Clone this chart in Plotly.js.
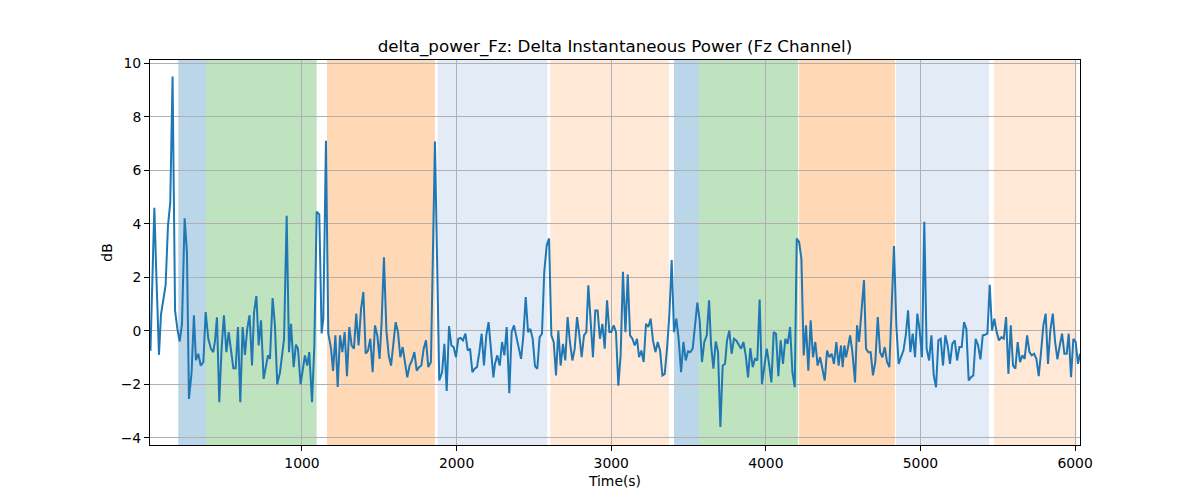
<!DOCTYPE html>
<html>
<head>
<meta charset="utf-8">
<script src="https://cdn.plot.ly/plotly-3.0.1.min.js"></script>
<style>
  body { margin: 0; background: #fff; }
  #chart { width: 1200px; height: 500px; }
</style>
</head>
<body>
<div id="chart"></div>
<script>
// time stamps (s) and delta power (dB)
var timeS = [
  20,45,58,75,88,103,118,133,148,163,
  179,194,209,224,241,256,269,286,301,314,
  329,345,362,377,394,411,426,437,450,465,
  480,495,511,526,541,556,571,586,601,616,
  631,646,661,677,690,705,720,735,752,767,
  780,793,810,825,840,858,873,884,901,916,
  929,946,961,974,991,1004,1019,1034,1047,1065,
  1080,1095,1112,1127,1138,1155,1170,1188,1201,1216,
  1231,1246,1261,1276,1291,1306,1321,1336,1351,1366,
  1382,1397,1412,1427,1442,1457,1472,1487,1502,1515,
  1530,1546,1561,1576,1591,1606,1621,1636,1651,1666,
  1681,1696,1711,1727,1742,1757,1772,1787,1802,1817,
  1834,1860,1888,1906,1921,1936,1951,1966,1981,1996,
  2011,2026,2041,2057,2072,2087,2102,2117,2132,2147,
  2162,2177,2192,2207,2222,2238,2248,2263,2279,2294,
  2309,2324,2341,2356,2371,2386,2401,2417,2432,2447,
  2462,2477,2492,2507,2522,2537,2552,2567,2583,2598,
  2613,2628,2643,2658,2673,2688,2703,2718,2733,2749,
  2764,2779,2794,2809,2824,2839,2852,2867,2882,2897,
  2912,2927,2943,2958,2973,2988,3001,3016,3031,3046,
  3061,3076,3092,3107,3122,3137,3152,3167,3180,3195,
  3210,3225,3240,3255,3270,3286,3301,3316,3331,3346,
  3361,3376,3391,3406,3421,3436,3452,3467,3482,3497,
  3512,3527,3542,3557,3572,3587,3602,3618,3633,3646,
  3661,3676,3691,3706,3721,3736,3749,3764,3779,3794,
  3809,3825,3840,3855,3870,3885,3900,3915,3930,3945,
  3960,3975,3991,4006,4021,4036,4051,4066,4081,4096,
  4111,4126,4141,4157,4172,4187,4200,4215,4230,4245,
  4260,4275,4290,4305,4320,4335,4351,4366,4381,4396,
  4411,4426,4441,4456,4471,4486,4497,4508,4519,4530,
  4545,4560,4577,4590,4603,4620,4635,4648,4663,4678,
  4693,4708,4724,4739,4754,4769,4784,4799,4814,4829,
  4844,4859,4874,4890,4905,4920,4935,4950,4965,4980,
  4995,5010,5025,5040,5056,5071,5086,5101,5116,5131,
  5146,5161,5176,5191,5206,5222,5237,5252,5267,5282,
  5297,5312,5327,5342,5357,5373,5388,5403,5418,5433,
  5448,5463,5478,5493,5508,5524,5539,5554,5569,5584,
  5599,5614,5629,5644,5659,5674,5690,5705,5720,5735,
  5750,5765,5780,5795,5810,5825,5840,5856,5871,5886,
  5901,5916,5931,5946,5959,5974,5989,6004,6019,6032
];
var powerDb = [
  -0.75,4.6,2.1,-0.9,0.6,1.1,1.7,3.9,4.8,9.5,
  0.76,0.07,-0.4,0.26,4.2,2.95,-2.55,-1.55,0.58,-1.1,
  -0.86,-1.3,-1.17,0.7,-0.3,-0.67,-0.8,-0.4,0.5,-2.67,
  -0.67,0.58,-0.8,-0.05,-0.67,-1.4,-1.4,0.14,-2.67,0.14,
  -0.9,0.07,0.58,-1.3,0.7,1.3,-0.55,0.39,-1.8,-1.3,
  -0.92,-1.05,1.22,0.2,-2.0,-1.55,-0.8,-0.3,4.3,-0.8,
  0.26,-1.36,-0.52,-0.67,-2.0,-1.42,-0.92,-1.3,-0.8,-2.67,
  -0.55,4.45,4.35,-0.1,0.45,7.1,-0.1,-0.67,-1.5,-0.17,
  -2.1,-0.17,-0.8,-0.05,-1.7,0.14,-0.55,-0.67,0.64,-0.55,
  0.82,1.45,-0.86,-0.74,-0.3,-1.55,0.2,-0.17,-1.05,0.32,
  2.75,0.01,-0.92,-1.3,-0.55,0.32,-0.05,-0.99,-0.61,-1.11,
  -1.74,-1.3,-1.11,-0.8,-1.49,-1.36,-1.3,-0.67,-0.36,-1.36,
  -1.17,7.07,-1.86,-1.55,-0.49,-2.25,0.17,-0.55,-0.61,-0.99,
  -0.3,-0.27,-0.36,-0.11,-0.74,-0.67,-1.55,-1.42,-1.36,-0.8,
  -0.11,-1.3,-0.17,0.32,-0.67,-1.74,-1.24,-0.92,-1.3,-0.42,
  -0.92,0.14,-2.33,-0.05,0.2,-0.24,-0.67,-1.05,-0.17,1.26,
  -0.05,0.07,-0.3,-1.32,-1.42,-0.24,-0.11,2.2,3.2,3.45,
  -0.17,-0.42,-1.67,0.01,-1.3,-0.49,-1.11,0.51,-0.42,-1.11,
  -0.67,0.51,-0.17,-0.99,-0.17,-0.05,1.7,0.45,-0.99,0.76,
  0.76,-0.3,0.26,-0.67,1.14,-0.05,-0.05,0.2,-0.05,-2.05,
  -0.92,2.2,-0.05,2.1,-0.17,-0.3,-0.55,-0.3,-0.99,-0.74,
  -1.17,0.26,0.14,0.45,-0.36,-0.8,-0.42,-0.74,-1.67,-1.61,
  -0.67,0.58,2.64,-0.05,0.45,-0.3,-1.55,-0.42,-1.11,-0.77,
  -0.8,-0.67,0.2,1.05,0.39,-1.17,-0.42,-0.17,1.14,-0.55,
  -1.42,-0.4,-0.8,-3.6,-1.3,-1.24,-0.36,0.01,-0.86,-0.3,
  -0.36,-0.55,-0.67,-0.42,-0.92,-1.74,-0.65,-1.36,-1.05,-1.11,
  1.17,-1.99,-1.36,-0.67,-1.24,-1.93,-0.05,-0.11,-1.7,-0.36,
  -1.24,-0.3,-0.49,0.14,-1.55,-2.11,3.45,3.32,2.7,-0.92,
  0.2,-1.49,0.39,-0.99,-0.42,-1.3,-0.99,-1.49,-1.86,-0.74,
  -0.99,-0.86,-1.24,-0.42,-1.3,-0.55,-1.36,-0.55,-0.99,-0.67,
  -0.17,-0.8,-1.93,0.2,-0.42,0.82,1.89,-0.67,-0.8,-0.8,
  -1.67,-1.17,0.51,-0.8,-0.99,-0.61,-1.17,-1.36,0.82,3.17,
  0.2,-1.24,-0.99,-0.74,-0.17,0.76,-0.8,-0.11,-0.99,0.64,
  0.01,-0.99,4.07,-0.67,-1.11,-0.17,-1.67,-2.11,-0.36,-0.3,
  -1.3,-0.17,-0.55,-1.24,-0.49,-0.36,-1.11,-0.61,-0.61,0.32,
  0.07,-1.86,-1.74,-1.67,-0.3,-0.55,-1.07,-0.17,-0.15,-0.11,
  1.72,0.01,0.45,-0.05,-0.36,-0.24,-0.3,0.51,-1.61,0.2,
  -1.3,-1.42,-0.42,-1.17,-0.92,-1.05,-0.17,-0.8,-0.92,-0.86,
  -1.05,-1.7,-0.8,0.2,0.64,-1.24,0.01,0.64,-0.42,-1.07,
  -0.55,-0.11,-0.86,-0.86,-0.11,-1.74,-0.3,-0.42,-1.24,-0.86
];

// shaded phases (s)
var bandStart = [200, 379, 1162, 1877, 2606, 3406, 3568, 4215, 4842, 5476];
var bandEnd   = [379, 1095, 1860, 2587, 3374, 3568, 4209, 4835, 5444, 6010];
var bandKind  = ['blue', 'green', 'orange', 'lightblue', 'lightorange',
                 'blue', 'green', 'orange', 'lightblue', 'lightorange'];

var xTicks = [1000, 2000, 3000, 4000, 5000, 6000];
var yTicks = [-4, -2, 0, 2, 4, 6, 8, 10];

var bandFill = {
  blue: 'rgba(31,119,180,0.3)',
  green: 'rgba(44,160,44,0.3)',
  orange: 'rgba(255,127,14,0.3)',
  lightblue: 'rgba(70,120,200,0.15)',
  lightorange: 'rgba(255,127,14,0.17)'
};

var shapes = bandStart.map(function(s, i) {
  return {
    type: 'rect', xref: 'x', yref: 'paper',
    x0: s, x1: bandEnd[i], y0: 0, y1: 1,
    fillcolor: bandFill[bandKind[i]],
    line: {width: 0},
    layer: 'below'
  };
});

var trace = {
  x: timeS,
  y: powerDb,
  type: 'scatter',
  mode: 'lines',
  line: {color: '#1f77b4', width: 2},
  hoverinfo: 'x+y'
};

var font = {family: 'DejaVu Sans, sans-serif', size: 13.9, color: '#000'};

var axisBase = {
  showline: true,
  linecolor: '#000',
  linewidth: 1,
  mirror: true,
  ticks: 'outside',
  ticklen: 5,
  tickwidth: 1,
  tickcolor: '#000',
  showgrid: true,
  gridcolor: '#b0b0b0',
  gridwidth: 1,
  zeroline: false,
  tickfont: font
};

var layout = {
  width: 1200,
  height: 500,
  margin: {l: 150, r: 120, t: 60, b: 55},
  paper_bgcolor: '#fff',
  plot_bgcolor: 'rgba(0,0,0,0)',
  showlegend: false,
  font: font,
  title: {
    text: 'delta_power_Fz: Delta Instantaneous Power (Fz Channel)',
    font: {family: 'DejaVu Sans, sans-serif', size: 16.7, color: '#000'},
    x: 0.5, xref: 'paper',
    y: 1 - 46 / 500, yref: 'container', yanchor: 'middle'
  },
  xaxis: Object.assign({}, axisBase, {
    range: [17, 6032],
    tickvals: xTicks,
    title: {text: 'Time(s)', font: font, standoff: 6}
  }),
  yaxis: Object.assign({}, axisBase, {
    range: [-4.27, 10.12],
    tickvals: yTicks,
    title: {text: 'dB', font: font, standoff: 4}
  }),
  shapes: shapes
};

Plotly.newPlot('chart', [trace], layout, {displayModeBar: false, staticPlot: true});
</script>
</body>
</html>
